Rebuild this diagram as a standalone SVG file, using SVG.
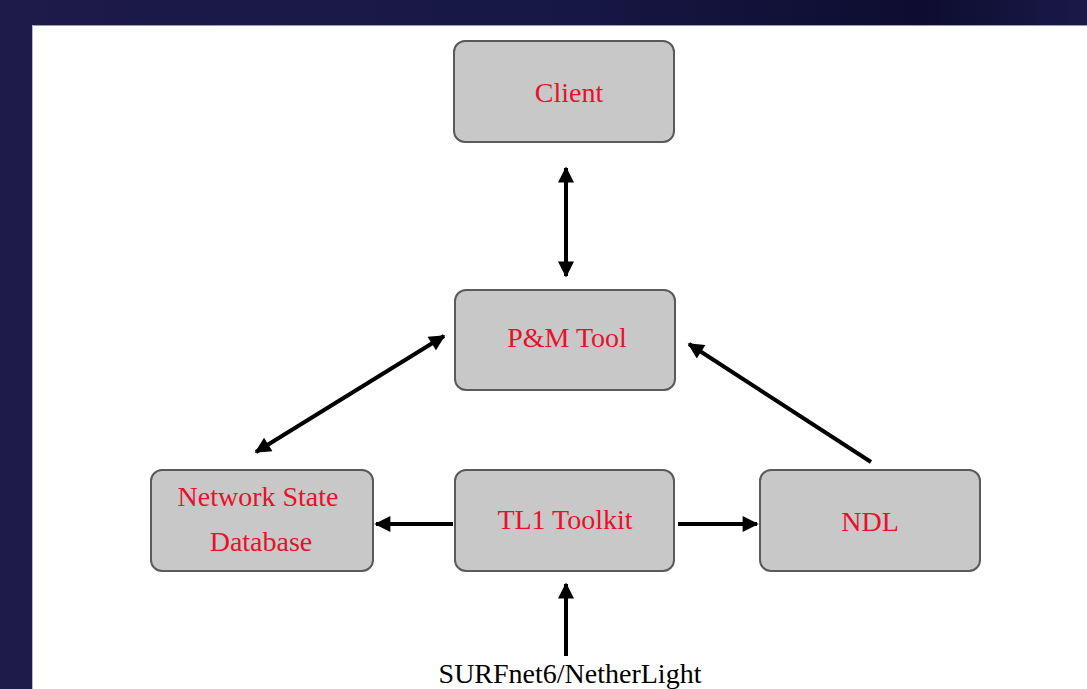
<svg xmlns="http://www.w3.org/2000/svg" width="1087" height="689" viewBox="0 0 1087 689">
<style>
.box{fill:#c8c8c8;stroke:#5a5a5a;stroke-width:2}
.lbl{font-family:"Liberation Serif","Times New Roman",serif;font-size:28px;fill:#e8102a;text-anchor:middle}
.conn{stroke:#000;stroke-width:4;fill:none}
</style>
<defs>
<linearGradient id="bg" x1="0" y1="0" x2="1" y2="0">
<stop offset="0" stop-color="#1e1a4a"/>
<stop offset="0.5" stop-color="#171845"/>
<stop offset="0.85" stop-color="#0e0c30"/>
<stop offset="1" stop-color="#1a1a48"/>
</linearGradient>
<marker id="ah" viewBox="0 0 10 10" refX="9" refY="5" markerWidth="5" markerHeight="4" orient="auto-start-reverse" markerUnits="strokeWidth">
<path d="M0,0 L10,5 L0,10 z" fill="#000"/>
</marker>
</defs>
<rect x="0" y="0" width="1087" height="689" fill="url(#bg)"/>
<rect x="32" y="25" width="1055" height="664" fill="#ffffff"/>
<line x1="32" y1="25.5" x2="1087" y2="25.5" stroke="#9c9ab8" stroke-width="1"/>
<line x1="32.5" y1="25" x2="32.5" y2="689" stroke="#b8b6d0" stroke-width="1"/>
<g id="connectors">
<line class="conn" x1="566" y1="168" x2="566" y2="276" marker-start="url(#ah)" marker-end="url(#ah)"/>
<line class="conn" x1="444" y1="336" x2="256" y2="452" marker-start="url(#ah)" marker-end="url(#ah)"/>
<line class="conn" x1="871" y1="462" x2="689" y2="344" marker-end="url(#ah)"/>
<line class="conn" x1="453" y1="524" x2="376" y2="524" marker-end="url(#ah)"/>
<line class="conn" x1="678" y1="524" x2="757" y2="524" marker-end="url(#ah)"/>
<line class="conn" x1="566" y1="656" x2="566" y2="584" marker-end="url(#ah)"/>
</g>
<g id="client">
<rect class="box" x="454" y="41" width="220" height="101" rx="11"/>
<text class="lbl" x="569" y="102">Client</text>
</g>
<g id="pm-tool">
<rect class="box" x="455" y="290" width="220" height="100" rx="11"/>
<text class="lbl" x="567" y="347">P&amp;M Tool</text>
</g>
<g id="network-state-database">
<rect class="box" x="151" y="470" width="222" height="101" rx="11"/>
<text class="lbl" x="258" y="506">Network State</text>
<text class="lbl" x="261" y="551">Database</text>
</g>
<g id="tl1-toolkit">
<rect class="box" x="455" y="470" width="219" height="101" rx="11"/>
<text class="lbl" x="565" y="529">TL1 Toolkit</text>
</g>
<g id="ndl">
<rect class="box" x="760" y="470" width="220" height="101" rx="11"/>
<text class="lbl" x="870" y="531">NDL</text>
</g>
<g id="surfnet">
<text x="570" y="683" font-family="'Liberation Serif','Times New Roman',serif" font-size="28" fill="#000" text-anchor="middle">SURFnet6/NetherLight</text>
</g>
</svg>
